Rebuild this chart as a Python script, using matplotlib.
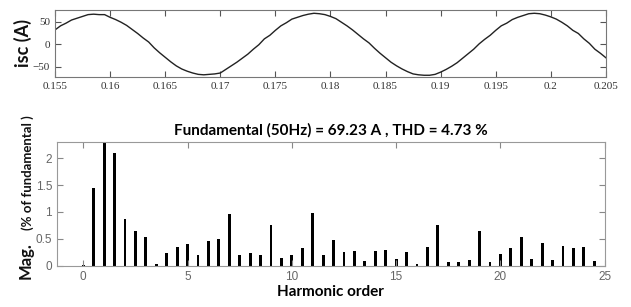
import numpy as np
import matplotlib
matplotlib.use("Agg")
import matplotlib.pyplot as plt

# --- measured current isc (A), sampled every 0.5 ms from 0.155 s to 0.205 s
t = [0.155 + 0.0005 * k for k in range(101)]
isc = [32, 41, 47, 54, 58, 62, 66, 67, 66, 66,
       60, 55, 49, 42, 33, 24, 14, 5, -8, -19,
       -29, -39, -48, -55, -60, -64, -67, -68, -67, -66,
       -64, -56, -48, -40, -31, -22, -11, -1, 12, 20,
       31, 41, 48, 56, 60, 64, 67, 69, 68, 66,
       62, 57, 49, 41, 32, 22, 12, 3, -9, -20,
       -30, -40, -48, -55, -61, -66, -68, -69, -69, -67,
       -62, -56, -49, -41, -31, -21, -11, 1, 11, 20,
       31, 41, 47, 55, 60, 64, 68, 69, 68, 65,
       61, 56, 49, 41, 31, 24, 12, 2, -11, -20,
       -30]

# --- FFT spectrum (% of fundamental), harmonic orders 0 .. 24.5 step 0.5
orders = [k * 0.5 for k in range(50)]
mag = [0.02, 1.45, 100, 2.09, 0.87, 0.65, 0.53, 0.04, 0.24, 0.35,
       0.40, 0.20, 0.46, 0.50, 0.97, 0.20, 0.24, 0.19, 0.75, 0.14,
       0.19, 0.32, 0.98, 0.19, 0.48, 0.26, 0.27, 0.09, 0.27, 0.30,
       0.12, 0.25, 0.03, 0.34, 0.76, 0.06, 0.06, 0.11, 0.65, 0.06,
       0.22, 0.33, 0.53, 0.12, 0.42, 0.10, 0.36, 0.32, 0.35, 0.09]

top_xticks = [0.155, 0.16, 0.165, 0.17, 0.175, 0.18, 0.185, 0.19, 0.195, 0.2, 0.205]
top_xlabels = ["0.155", "0.16", "0.165", "0.17", "0.175", "0.18", "0.185", "0.19", "0.195", "0.2", "0.205"]
top_yticks = [-50, 0, 50]
bot_xticks = [0, 5, 10, 15, 20, 25]
bot_yticks = [0, 0.5, 1, 1.5, 2]
bot_ylabels = ["0", "0.5", "1", "1.5", "2"]

fig = plt.figure(figsize=(6.31, 3.07), dpi=100)

### waveform
ax1 = fig.add_axes([0.0872, 0.749, 0.873, 0.218])
ax1.plot(t, isc, color="#222222", lw=1.0)
ax1.set_xlim(0.155, 0.205)
ax1.set_ylim(-73, 76)
ax1.set_xticks(top_xticks)
ax1.set_xticklabels(top_xlabels)
ax1.set_yticks(top_yticks)
ax1.tick_params(direction="in", top=True, right=True, length=4, color="#555555",
                labelsize=8, labelcolor="#333333")
for lab in ax1.get_xticklabels() + ax1.get_yticklabels():
    lab.set_family("Liberation Serif")
for s in ax1.spines.values():
    s.set_color("#777777")
    s.set_linewidth(0.8)
fig.text(0.036, 0.86, "isc (A)", rotation=90, ha="center", va="center",
         fontsize=13, fontweight="bold", family="Lato", color="#111111")

### spectrum
ax2 = fig.add_axes([0.0903, 0.1345, 0.868, 0.403])
ax2.bar(orders, mag, width=0.14, color="black")
ax2.set_xlim(-1.26, 25)
ax2.set_ylim(0, 2.3)
ax2.set_xticks(bot_xticks)
ax2.set_yticks(bot_yticks)
ax2.set_yticklabels(bot_ylabels)
ax2.tick_params(direction="in", top=True, right=True, length=4, color="#888888",
                labelsize=8.5, labelcolor="#666666")
for lab in ax2.get_xticklabels() + ax2.get_yticklabels():
    lab.set_family("Liberation Sans")
for s in ax2.spines.values():
    s.set_color("#999999")
    s.set_linewidth(0.8)
ax2.set_title("Fundamental (50Hz) = 69.23 A , THD = 4.73 %", fontsize=11,
              fontweight="bold", family="Lato", pad=5)
ax2.set_xlabel("Harmonic order", fontsize=11, fontweight="bold", family="Lato", labelpad=2)
fig.text(0.040, 0.091, "Mag.", rotation=90, ha="center", va="bottom",
         fontsize=12, fontweight="bold", family="Lato", color="#111111")
fig.text(0.044, 0.250, "(% of fundamental )", rotation=90, ha="center", va="bottom",
         fontsize=9.5, fontweight="bold", family="Lato", color="#111111")

fig.savefig("out.png", dpi=100)
